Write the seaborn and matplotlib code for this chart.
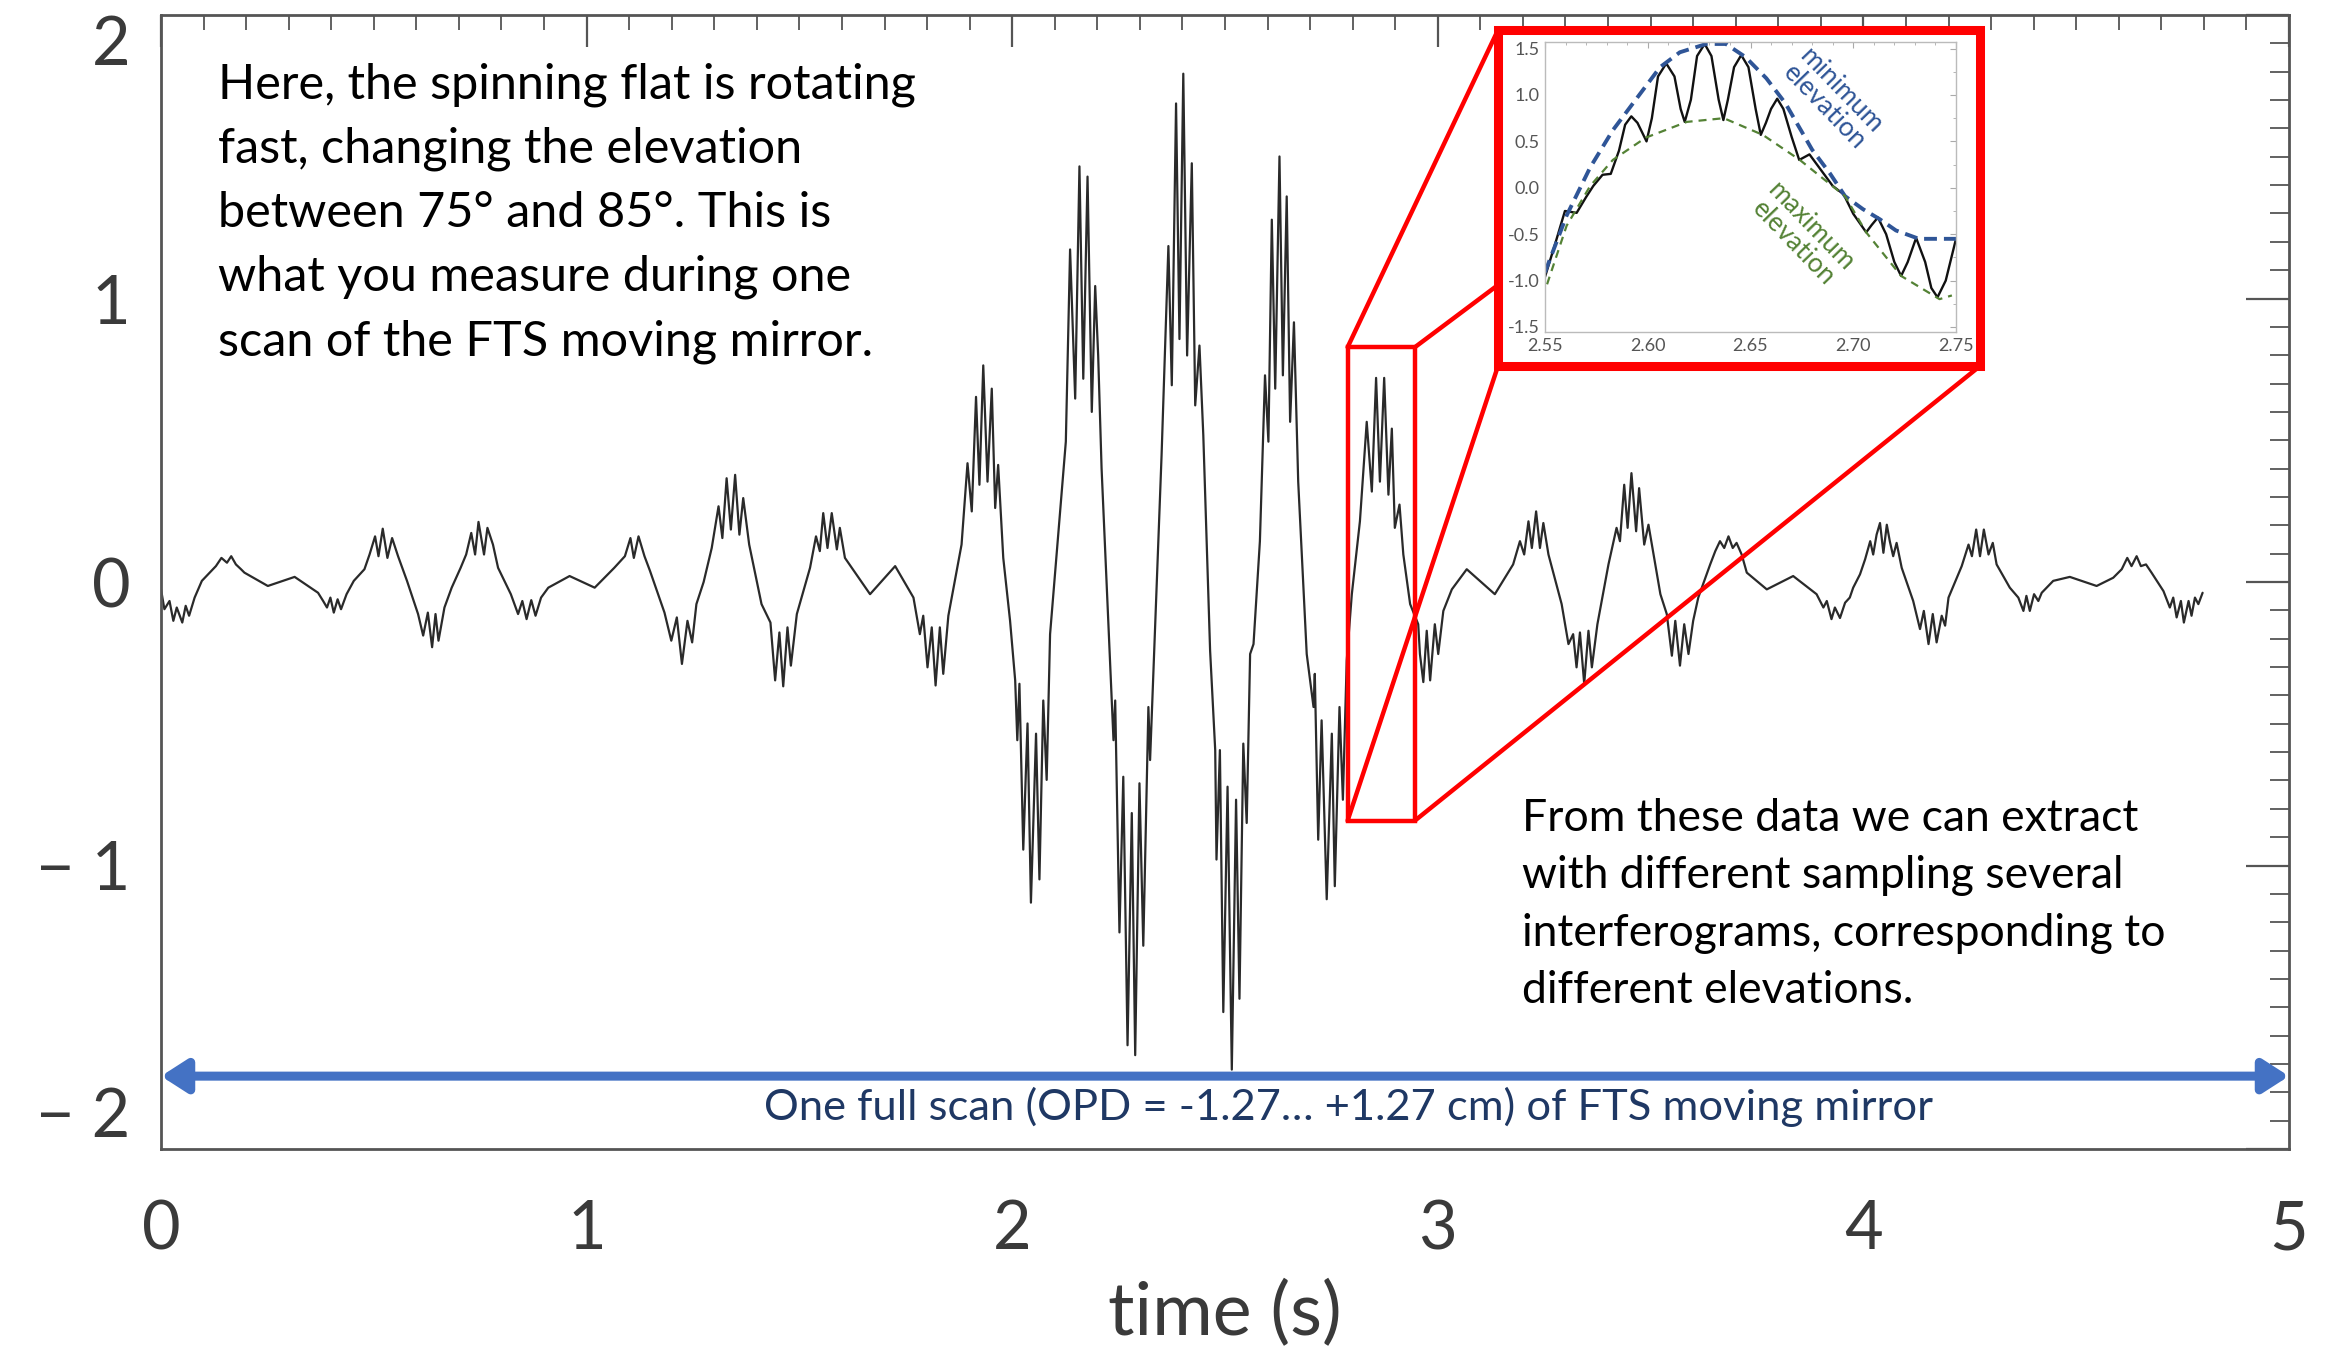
import matplotlib
matplotlib.use("Agg")
import matplotlib.pyplot as plt
import seaborn as sns
from matplotlib.ticker import MultipleLocator, FixedLocator, FixedFormatter
from matplotlib.patches import Rectangle, ConnectionPatch

# main interferogram (time in s, signal)
t_main = [0.000, 0.008, 0.020, 0.029, 0.037, 0.050, 0.058, 0.066, 0.079, 0.096,
          0.129, 0.142, 0.155, 0.165, 0.176, 0.188, 0.196, 0.251, 0.314,
          0.369, 0.381, 0.390, 0.398, 0.406, 0.415, 0.423, 0.436, 0.453,
          0.478, 0.490, 0.503, 0.511, 0.521, 0.532, 0.543, 0.557, 0.578,
          0.604, 0.616, 0.627, 0.637, 0.645, 0.652, 0.666, 0.683,
          0.704, 0.717, 0.729, 0.738, 0.746, 0.759, 0.767, 0.780, 0.792,
          0.822, 0.839, 0.849, 0.859, 0.870, 0.880, 0.893, 0.910, 0.960, 1.019,
          1.065, 1.090, 1.103, 1.111, 1.122, 1.136, 1.149,
          1.183, 1.199, 1.212, 1.224, 1.237, 1.248, 1.258, 1.275, 1.294,
          1.310, 1.319, 1.329, 1.339, 1.349, 1.359, 1.368, 1.382, 1.411,
          1.432, 1.443, 1.453, 1.462, 1.472, 1.480, 1.494, 1.525,
          1.539, 1.548, 1.556, 1.566, 1.576, 1.588, 1.595, 1.607, 1.666, 1.725, 1.768,
          1.783, 1.791, 1.801, 1.811, 1.820, 1.830, 1.838, 1.850, 1.881,
          1.895, 1.905, 1.915, 1.923, 1.932, 1.942, 1.952, 1.960, 1.967, 1.979, 1.995,
          2.007, 2.012, 2.017, 2.026, 2.036, 2.044, 2.056, 2.064, 2.073, 2.081, 2.089,
          2.126, 2.136, 2.148, 2.158, 2.167, 2.177, 2.187, 2.195, 2.202, 2.210,
          2.238, 2.242, 2.252, 2.261, 2.271, 2.281, 2.289, 2.299, 2.308, 2.320, 2.324, 2.351,
          2.367, 2.375, 2.385, 2.393, 2.402, 2.411, 2.422, 2.430, 2.440, 2.449, 2.465,
          2.477, 2.480, 2.488, 2.496, 2.506, 2.516, 2.526, 2.534, 2.543, 2.551, 2.559, 2.567, 2.582,
          2.594, 2.602, 2.610, 2.618, 2.628, 2.636, 2.645, 2.653, 2.662, 2.672, 2.692,
          2.708, 2.711, 2.719, 2.727, 2.739, 2.751, 2.758, 2.769, 2.777, 2.786, 2.798,
          2.817, 2.833, 2.845, 2.855, 2.864, 2.874, 2.884, 2.892, 2.899, 2.910, 2.919, 2.935,
          2.954, 2.958, 2.966, 2.974, 2.982, 2.993, 3.001, 3.013, 3.033, 3.068, 3.134, 3.177,
          3.193, 3.203, 3.213, 3.221, 3.231, 3.240, 3.248, 3.260, 3.291,
          3.307, 3.318, 3.326, 3.334, 3.344, 3.354, 3.362, 3.375, 3.401,
          3.420, 3.428, 3.438, 3.446, 3.455, 3.466, 3.473, 3.485, 3.495, 3.523,
          3.538, 3.550, 3.558, 3.569, 3.579, 3.589, 3.600, 3.612,
          3.640, 3.652, 3.663, 3.673, 3.683, 3.693, 3.702, 3.714, 3.726, 3.773, 3.835, 3.890,
          3.906, 3.914, 3.925, 3.933, 3.945, 3.957, 3.968, 3.976, 3.992,
          4.004, 4.016, 4.023, 4.031, 4.039, 4.047, 4.055, 4.062, 4.070, 4.078, 4.090, 4.117,
          4.133, 4.142, 4.153, 4.163, 4.172, 4.184, 4.192, 4.200, 4.231,
          4.247, 4.255, 4.265, 4.274, 4.283, 4.294, 4.304, 4.313, 4.344,
          4.364, 4.376, 4.383, 4.391, 4.401, 4.411, 4.419, 4.446, 4.485, 4.548, 4.587,
          4.607, 4.620, 4.630, 4.642, 4.652, 4.664, 4.677, 4.705,
          4.720, 4.728, 4.736, 4.746, 4.753, 4.764, 4.771, 4.779, 4.787, 4.797]
v_main = [-0.026, -0.096, -0.067, -0.137, -0.090, -0.143, -0.084, -0.119, -0.055, 0.004,
          0.056, 0.085, 0.068, 0.091, 0.062, 0.045, 0.033, -0.014, 0.018,
          -0.038, -0.067, -0.090, -0.055, -0.108, -0.061, -0.096, -0.043, 0.004,
          0.045, 0.097, 0.161, 0.091, 0.188, 0.085, 0.155, 0.091, 0.004,
          -0.113, -0.189, -0.108, -0.230, -0.113, -0.207, -0.090, -0.020,
          0.050, 0.097, 0.173, 0.097, 0.212, 0.097, 0.191, 0.132, 0.050,
          -0.043, -0.113, -0.067, -0.131, -0.064, -0.119, -0.055, -0.020, 0.021, -0.020,
          0.050, 0.091, 0.155, 0.085, 0.161, 0.091, 0.039,
          -0.108, -0.207, -0.125, -0.289, -0.137, -0.213, -0.078, 0.000, 0.120,
          0.267, 0.155, 0.366, 0.185, 0.378, 0.167, 0.296, 0.132, -0.078,
          -0.143, -0.347, -0.178, -0.368, -0.160, -0.295, -0.113, 0.050,
          0.161, 0.109, 0.243, 0.120, 0.243, 0.115, 0.191, 0.085, -0.043, 0.056, -0.055,
          -0.184, -0.119, -0.301, -0.160, -0.365, -0.160, -0.324, -0.119, 0.132,
          0.419, 0.249, 0.653, 0.343, 0.764, 0.354, 0.682, 0.261, 0.413, 0.085, -0.137,
          -0.347, -0.558, -0.359, -0.944, -0.499, -1.131, -0.535, -1.049, -0.418, -0.698, -0.184,
          0.495, 1.173, 0.647, 1.466, 0.717, 1.430, 0.600, 1.044, 0.799, 0.401,
          -0.558, -0.418, -1.236, -0.687, -1.634, -0.815, -1.669, -0.710, -1.283, -0.441, -0.628, 0.448,
          1.185, 0.694, 1.688, 0.857, 1.793, 0.799, 1.477, 0.623, 0.834, 0.518, -0.242,
          -0.593, -0.979, -0.593, -1.517, -0.722, -1.720, -0.768, -1.470, -0.570, -0.850, -0.254, -0.219, 0.144,
          0.729, 0.495, 1.278, 0.682, 1.501, 0.729, 1.360, 0.565, 0.916, 0.354, -0.254,
          -0.441, -0.324, -0.909, -0.488, -1.119, -0.535, -1.073, -0.441, -0.768, -0.277, -0.043,
          0.214, 0.565, 0.319, 0.720, 0.354, 0.720, 0.308, 0.541, 0.191, 0.273, 0.097, -0.078,
          -0.149, -0.254, -0.353, -0.172, -0.347, -0.149, -0.254, -0.102, -0.026, 0.045, -0.043, 0.062,
          0.144, 0.097, 0.214, 0.120, 0.249, 0.120, 0.208, 0.097, -0.078,
          -0.219, -0.184, -0.301, -0.178, -0.359, -0.172, -0.301, -0.149, 0.062,
          0.191, 0.144, 0.343, 0.191, 0.384, 0.179, 0.331, 0.132, 0.202, -0.043,
          -0.113, -0.260, -0.137, -0.295, -0.149, -0.254, -0.137, -0.055,
          0.062, 0.109, 0.144, 0.120, 0.161, 0.120, 0.138, 0.097, 0.033, -0.026, 0.021, -0.043,
          -0.090, -0.067, -0.131, -0.090, -0.127, -0.073, -0.055, -0.020, 0.027,
          0.080, 0.144, 0.097, 0.167, 0.208, 0.103, 0.202, 0.144, 0.091, 0.138, 0.050, -0.067,
          -0.166, -0.102, -0.219, -0.113, -0.213, -0.119, -0.154, -0.055, 0.056,
          0.132, 0.091, 0.185, 0.091, 0.185, 0.097, 0.138, 0.062, -0.020,
          -0.055, -0.102, -0.049, -0.102, -0.043, -0.067, -0.038, 0.004, 0.018, -0.014, 0.015,
          0.045, 0.085, 0.056, 0.091, 0.056, 0.062, 0.033, -0.032,
          -0.090, -0.055, -0.125, -0.067, -0.143, -0.067, -0.119, -0.055, -0.078, -0.038]

# zoomed window (inset)
t_zoom = [2.5500, 2.5550, 2.5597, 2.5654, 2.5700, 2.5735, 2.5780, 2.5820, 2.5860, 2.5890,
          2.5920, 2.5950, 2.5994, 2.6020, 2.6050, 2.6090, 2.6130, 2.6160, 2.6180, 2.6210,
          2.6240, 2.6277, 2.6310, 2.6345, 2.6368, 2.6390, 2.6420, 2.6455, 2.6490, 2.6525,
          2.6550, 2.6575, 2.6600, 2.6630, 2.6660, 2.6700, 2.6737, 2.6787, 2.6900, 2.6953,
          2.7000, 2.7063, 2.7090, 2.7120, 2.7160, 2.7200, 2.7233, 2.7265, 2.7306, 2.7350,
          2.7380, 2.7410, 2.7450, 2.7500]
v_zoom = [-0.96, -0.60, -0.25, -0.27, -0.10, 0.02, 0.14, 0.15, 0.40, 0.68,
          0.77, 0.70, 0.50, 0.75, 1.20, 1.34, 1.20, 0.85, 0.71, 0.95,
          1.42, 1.55, 1.42, 0.95, 0.73, 0.95, 1.30, 1.43, 1.30, 0.85,
          0.57, 0.70, 0.85, 0.96, 0.85, 0.55, 0.30, 0.36, 0.02, -0.07,
          -0.28, -0.48, -0.40, -0.32, -0.50, -0.80, -0.95, -0.80, -0.54, -0.80,
          -1.08, -1.18, -1.00, -0.55]
t_min_elev = [2.550, 2.5605, 2.572, 2.583, 2.5945, 2.606, 2.6156, 2.6285, 2.638, 2.6475,
              2.6577, 2.667, 2.680, 2.6885, 2.696, 2.7047, 2.713, 2.7208, 2.732, 2.750]
v_min_elev = [-0.91, -0.30, 0.22, 0.62, 0.96, 1.30, 1.46, 1.55, 1.55, 1.41,
              1.18, 0.91, 0.41, 0.16, -0.09, -0.23, -0.34, -0.46, -0.55, -0.55]
t_max_elev = [2.551, 2.5605, 2.572, 2.583, 2.599, 2.619, 2.637, 2.656, 2.674, 2.696,
              2.7063, 2.7233, 2.742, 2.748]
v_max_elev = [-1.04, -0.41, 0.02, 0.30, 0.54, 0.71, 0.75, 0.57, 0.30, -0.09,
              -0.48, -0.95, -1.20, -1.16]

zoom_box_t = [2.788, 2.946]
zoom_box_v = [-0.842, 0.828]

x_ticks = [0, 1, 2, 3, 4, 5]
y_ticks = [-2, -1, 0, 1, 2]
y_labels = ["\u2212 2", "\u2212 1", "0", "1", "2"]
inset_xticks = [2.55, 2.60, 2.65, 2.70, 2.75]
inset_yticks = [-1.5, -1.0, -0.5, 0.0, 0.5, 1.0, 1.5]

text_left = ("Here, the spinning flat is rotating\nfast, changing the elevation\n"
             "between 75\u00b0 and 85\u00b0. This is\nwhat you measure during one\n"
             "scan of the FTS moving mirror.")
text_right = ("From these data we can extract\nwith different sampling several\n"
              "interferograms, corresponding to\ndifferent elevations.")
text_scan = "One full scan (OPD = -1.27\u2026 +1.27 cm) of FTS moving mirror"

sns.set_style("white")
plt.rcParams["font.family"] = ["Lato", "DejaVu Sans"]

W, H = 2331, 1348
fig = plt.figure(figsize=(W / 100, H / 100), dpi=100)
ax = fig.add_axes([161 / W, 1 - 1149 / H, 2128 / W, 1134 / H])

sns.lineplot(x=t_main, y=v_main, ax=ax, color="#2a2a2a", linewidth=1.6,
             sort=False, estimator=None)
ax.set_xlim(0, 5)
ax.set_ylim(-2, 2)

# IDL-like box with inward ticks
for s in ax.spines.values():
    s.set_color("#555555")
    s.set_linewidth(2.0)
ax.xaxis.set_major_locator(FixedLocator(x_ticks))
ax.xaxis.set_minor_locator(MultipleLocator(0.1))
ax.yaxis.set_major_locator(FixedLocator(y_ticks))
ax.yaxis.set_major_formatter(FixedFormatter(y_labels))
ax.yaxis.set_minor_locator(MultipleLocator(0.1))
ax.tick_params(which="both", direction="in", top=True, right=True, colors="#555555")
ax.tick_params(axis="x", which="major", length=23, width=1.6, pad=36,
               labelsize=48, labelcolor="#3a3a3a")
ax.tick_params(axis="x", which="minor", length=11, width=1.3)
ax.tick_params(axis="y", which="major", length=31, width=1.6, pad=22,
               labelsize=48, labelcolor="#3a3a3a")
ax.tick_params(axis="y", which="minor", length=14, width=1.3)
fig.canvas.draw()
ylabs = ax.get_yticklabels()
ylabs[-1].set_verticalalignment("top")
ylabs[0].set_verticalalignment("bottom")
ax.set_xlabel("time (s)", fontsize=53, color="#3a3a3a", labelpad=14)
ax.set_ylabel("")

# red box on the zoomed part
ax.add_patch(Rectangle((zoom_box_t[0], zoom_box_v[0]), zoom_box_t[1] - zoom_box_t[0],
                       zoom_box_v[1] - zoom_box_v[0], fill=False, ec="red", lw=3.2, zorder=5))

# full scan arrow
ax.annotate("", xy=(0, -1.743), xytext=(5, -1.743),
            arrowprops=dict(arrowstyle="<|-|>,head_length=0.7,head_width=0.45",
                            color="#4472C4", lw=6.5, shrinkA=0, shrinkB=0,
                            mutation_scale=22),
            annotation_clip=False, zorder=6)
ax.text(2.79, -1.853, text_scan, ha="center", va="center", fontsize=31.3, color="#1F3864")

fig.text(0.0936, 0.842, text_left, ha="left", va="center", fontsize=35,
         linespacing=1.55, color="black")
fig.text(0.653, 0.329, text_right, ha="left", va="center", fontsize=32,
         linespacing=1.49, color="black")

# inset frame and connectors
fx0, fy0, fw, fh = 1498 / W, 1 - 366 / H, 482 / W, 336 / H
frame = Rectangle((fx0, fy0), fw, fh, transform=fig.transFigure, fc="white",
                  ec="red", lw=6.5, zorder=3)
fig.add_artist(frame)
links = [((zoom_box_t[0], zoom_box_v[1]), (fx0, fy0 + fh)),
         ((zoom_box_t[1], zoom_box_v[1]), (fx0, 1 - 285 / H)),
         ((zoom_box_t[0], zoom_box_v[0]), (fx0, fy0)),
         ((zoom_box_t[1], zoom_box_v[0]), (fx0 + fw, fy0))]
for a, b in links:
    con = ConnectionPatch(xyA=a, coordsA=ax.transData, xyB=b, coordsB=fig.transFigure,
                          color="red", lw=3.2, zorder=2)
    fig.add_artist(con)

axi = fig.add_axes([1545 / W, 1 - 332 / H, 411 / W, 290 / H], zorder=4)
sns.lineplot(x=t_zoom, y=v_zoom, ax=axi, color="#111111", linewidth=1.7,
             sort=False, estimator=None)
sns.lineplot(x=t_min_elev, y=v_min_elev, ax=axi, color="#2F5597", linewidth=2.8,
             linestyle=(0, (3.3, 1.8)), sort=False, estimator=None)
sns.lineplot(x=t_max_elev, y=v_max_elev, ax=axi, color="#548235", linewidth=1.6,
             linestyle=(0, (3.6, 2.7)), sort=False, estimator=None)
axi.set_xlim(2.55, 2.75)
axi.set_ylim(-1.554, 1.571)
for s in axi.spines.values():
    s.set_color("#bbbbbb")
    s.set_linewidth(1.0)
axi.xaxis.set_major_locator(FixedLocator(inset_xticks))
axi.xaxis.set_major_formatter(FixedFormatter(["%.2f" % v for v in inset_xticks]))
axi.xaxis.set_minor_locator(MultipleLocator(0.01))
axi.yaxis.set_major_locator(FixedLocator(inset_yticks))
axi.yaxis.set_major_formatter(FixedFormatter(["%.1f" % v for v in inset_yticks]))
axi.yaxis.set_minor_locator(MultipleLocator(0.25))
axi.tick_params(which="both", direction="in", top=True, right=True, colors="#aaaaaa",
                labelcolor="#555555", labelsize=13)
axi.tick_params(which="major", length=4, width=0.8, pad=4)
axi.tick_params(which="minor", length=2, width=0.6)
axi.set_xlabel("")
axi.set_ylabel("")
axi.text(2.690, 0.96, "minimum\nelevation", rotation=-46, rotation_mode="anchor",
         ha="center", va="center", fontsize=19, color="#2F5597", linespacing=0.95)
axi.text(2.675, -0.51, "maximum\nelevation", rotation=-46, rotation_mode="anchor",
         ha="center", va="center", fontsize=19, color="#548235", linespacing=0.95)

fig.savefig("out.png", dpi=100)
